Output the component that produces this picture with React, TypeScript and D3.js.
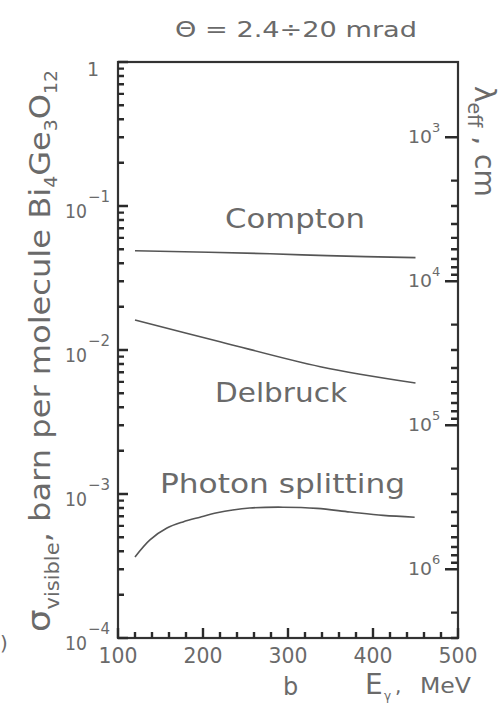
import React from "react";
import * as d3 from "d3";

const energies = [100, 200, 300, 400, 500];
const sigmaTicks = [1e-4, 1e-3, 1e-2, 1e-1, 1];
const lambdaTicks = [1e3, 1e4, 1e5, 1e6];

const comptonE = [120, 279, 346, 450];
const comptonSigma = [0.0489, 0.0466, 0.0452, 0.0438];

const delbruckE = [120, 220, 338, 450];
const delbruckSigma = [0.01615, 0.01142, 0.00766, 0.0059];

const splitE = [120, 137.6, 157.6, 176.5, 196.5, 216.5, 235, 255, 294, 334, 373, 412, 449];
const splitSigma = [3.65e-4, 4.8e-4, 5.8e-4, 6.4e-4, 6.9e-4, 7.4e-4, 7.75e-4, 8.0e-4, 8.1e-4, 7.95e-4, 7.5e-4, 7.1e-4, 6.9e-4];

const W = 500, H = 706;
const L = 118, R = 458, T = 62, B = 638;
const FONT = "'DejaVu Sans', sans-serif";
const TXT = "#6a6a6a";
const LINE = "#555";
const FRAME = "#333";

export default function App() {
  const x = d3.scaleLinear().domain([100, 500]).range([L, R]);
  const y = d3.scaleLog().domain([1e-4, 1]).range([B, T]);
  const yR = d3.scaleLog().domain([300, 3e6]).range([T, B]);

  const curvePath = (es: number[], ss: number[]) =>
    d3.line<number>().x((_, i) => x(es[i])).y((_, i) => y(ss[i])).curve(d3.curveCatmullRom)(es.map((_, i) => i)) || "";

  const leftMinor: number[] = [];
  for (let e = -4; e < 0; e++) for (let m = 2; m <= 9; m++) leftMinor.push(m * Math.pow(10, e));
  const rightMinor: number[] = [];
  for (let e = 3; e <= 6; e++) for (let m = 2; m <= 9; m++) { const v = m * Math.pow(10, e); if (v <= 3e6) rightMinor.push(v); }
  const xMinor: number[] = [];
  for (let v = 120; v < 500; v += 20) if (v % 100 !== 0) xMinor.push(v);

  const seg = (x1: number, y1: number, x2: number, y2: number) =>
    `M${x1.toFixed(1)} ${y1.toFixed(1)} L${x2.toFixed(1)} ${y2.toFixed(1)} `;
  let ticks = "";
  sigmaTicks.forEach((v) => { ticks += seg(L, y(v), L + 10, y(v)); });
  leftMinor.forEach((v) => { ticks += seg(L, y(v), L + 6, y(v)); });
  lambdaTicks.forEach((v) => { ticks += seg(R, yR(v), R - 13, yR(v)); });
  rightMinor.forEach((v) => { ticks += seg(R, yR(v), R - 7, yR(v)); });
  energies.forEach((v) => { ticks += seg(x(v), B, x(v), B - 10); });
  xMinor.forEach((v) => { ticks += seg(x(v), B, x(v), B - 6); });

  return (
    <svg width={W} height={H} style={{ position: "absolute", left: 0, top: 0, background: "#fff" }} fontFamily={FONT}>
      <rect width={W} height={H} fill="#fff" />
      {/* title */}
      <text x={296} y={37} fontSize={22} fill={TXT} textAnchor="middle" textLength={242} lengthAdjust="spacingAndGlyphs">Θ = 2.4÷20 mrad</text>

      {/* curves */}
      <path d={curvePath(comptonE, comptonSigma)} fill="none" stroke={LINE} strokeWidth={1.6} />
      <path d={curvePath(delbruckE, delbruckSigma)} fill="none" stroke={LINE} strokeWidth={1.6} />
      <path d={curvePath(splitE, splitSigma)} fill="none" stroke={LINE} strokeWidth={1.6} />

      {/* curve labels */}
      <text x={225} y={228} fontSize={27} fill={TXT} textLength={140} lengthAdjust="spacingAndGlyphs">Compton</text>
      <text x={215} y={402} fontSize={27} fill={TXT} textLength={132} lengthAdjust="spacingAndGlyphs">Delbruck</text>
      <text x={160} y={493} fontSize={27} fill={TXT} textLength={245} lengthAdjust="spacingAndGlyphs">Photon splitting</text>

      {/* frame */}
      <rect x={L} y={T} width={R - L} height={B - T} fill="none" stroke={FRAME} strokeWidth={2.2} />

      {/* ticks */}
      <path d={ticks} fill="none" stroke="#2a2a2a" strokeWidth={2.4} />

      {/* left tick labels */}
      {sigmaTicks.map((v) => {
        const e = Math.round(Math.log10(v));
        const yy = y(v);
        if (e === 0) return <text key={"lt" + v} x={87} y={yy + 14} fontSize={19} fill={TXT}>1</text>;
        return (
          <g key={"lt" + v}>
            <text x={65} y={yy + 12} fontSize={19} fill={TXT} textLength={22} lengthAdjust="spacingAndGlyphs">10</text>
            <text x={88} y={yy - 4} fontSize={15} fill={TXT}>{"−" + (-e)}</text>
          </g>
        );
      })}

      {/* right tick labels */}
      {lambdaTicks.map((v) => {
        const e = Math.round(Math.log10(v));
        const yy = yR(v);
        return (
          <g key={"rt" + v}>
            <text x={408} y={yy + 6} fontSize={18} fill={TXT} textLength={24} lengthAdjust="spacingAndGlyphs">10</text>
            <text x={432} y={yy - 5} fontSize={13} fill={TXT}>{e}</text>
          </g>
        );
      })}

      {/* bottom tick labels */}
      {energies.map((v) => (
        <text key={"bt" + v} x={x(v)} y={663} fontSize={21} fill={TXT} textAnchor="middle" textLength={39} lengthAdjust="spacingAndGlyphs">{v}</text>
      ))}

      {/* x-axis title */}
      <text x={283} y={695} fontSize={24} fill={TXT}>b</text>
      <text x={365} y={694} fontSize={28} fill={TXT}>E</text>
      <text x={384} y={700} fontSize={12} fill={TXT}>γ</text>
      <text x={395} y={693} fontSize={20} fill={TXT}>,</text>
      <text x={420} y={693} fontSize={21} fill={TXT} textLength={51} lengthAdjust="spacingAndGlyphs">MeV</text>

      {/* left y title */}
      <text transform="translate(50,632) rotate(-90)" fontSize={29} fill={TXT} textLength={562} lengthAdjust="spacingAndGlyphs">
        <tspan fontSize={32}>σ</tspan>
        <tspan fontSize={19} dy={9}>visible</tspan>
        <tspan dy={-9}>, barn per molecule Bi</tspan>
        <tspan fontSize={17} dy={7}>4</tspan>
        <tspan dy={-7}>Ge</tspan>
        <tspan fontSize={17} dy={7}>3</tspan>
        <tspan dy={-7}>O</tspan>
        <tspan fontSize={17} dy={7}>12</tspan>
      </text>

      {/* right y title */}
      <text transform="translate(475,86) rotate(90)" fontSize={28} fill={TXT}>
        <tspan>λ</tspan>
        <tspan fontSize={19} dy={7}>eff</tspan>
        <tspan dy={-7}> , cm</tspan>
      </text>

      {/* partial panel label at left edge */}
      <text x={0} y={650} fontSize={20} fill={TXT}>)</text>
    </svg>
  );
}
